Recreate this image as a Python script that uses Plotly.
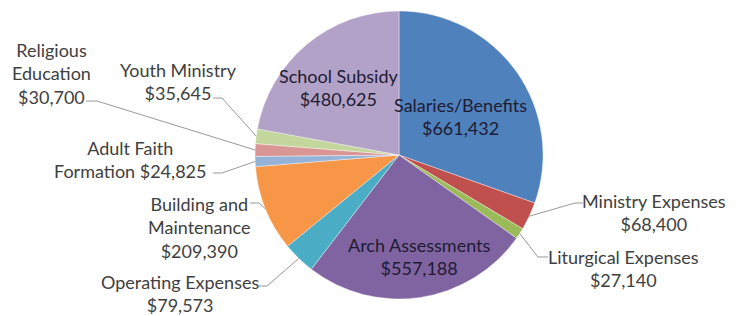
import math
import plotly.graph_objects as go

# ---- data ----
categories = ["Salaries/Benefits", "Ministry Expenses", "Liturgical Expenses", "Arch Assessments",
              "Operating Expenses", "Building and Maintenance", "Adult Faith Formation",
              "Religious Education", "Youth Ministry", "School Subsidy"]
values = [661432, 68400, 27140, 557188, 79573, 209390, 24825, 30700, 35645, 480625]
colors = ["#4F81BD", "#C0504D", "#9BBB59", "#8064A2", "#4BACC6", "#F79646",
          "#95B3D7", "#D99694", "#C3D69B", "#B3A2C7"]

# label text (line breaks as in the reference)
label_text = {
    "Salaries/Benefits": "Salaries/Benefits<br>$661,432",
    "Ministry Expenses": "Ministry Expenses<br>$68,400",
    "Liturgical Expenses": "Liturgical Expenses<br>$27,140",
    "Arch Assessments": "Arch Assessments<br>$557,188",
    "Operating Expenses": "Operating Expenses<br>$79,573",
    "Building and Maintenance": "Building and<br>Maintenance<br>$209,390",
    "Adult Faith Formation": "Adult Faith<br>Formation $24,825",
    "Religious Education": "Religious<br>Education<br>$30,700",
    "Youth Ministry": "Youth Ministry<br>$35,645",
    "School Subsidy": "School Subsidy<br>$480,625",
}

# ---- layout (window pixel geometry; page body has an 8px margin) ----
OFF = 8
WIN_W, WIN_H = 740, 316
W, H = WIN_W - OFF, WIN_H - OFF
CX, CY, R = 399, 155, 144

# label centres (window px) and whether inside
label_pos = {
    "Salaries/Benefits": (460, 116, True),
    "Arch Assessments": (420, 256, True),
    "School Subsidy": (339, 88, True),
    "Ministry Expenses": (654, 212, False),
    "Liturgical Expenses": (623, 268, False),
    "Operating Expenses": (180, 293, False),
    "Building and Maintenance": (199, 227, False),
    "Adult Faith Formation": (130, 160, False),
    "Religious Education": (51, 73, False),
    "Youth Ministry": (178, 81, False),
}
# leader-line elbow and end (near text) points, window px
leader = {
    "Ministry Expenses": [(575, 203), (583, 203)],
    "Liturgical Expenses": [(538, 257), (548, 257)],
    "Operating Expenses": [(267, 286), (259, 286)],
    "Building and Maintenance": [(259, 203), (250, 203)],
    "Adult Faith Formation": [(222, 173), (213, 173)],
    "Religious Education": [(97, 101), (86, 101)],
    "Youth Ministry": [(222, 98), (213, 98)],
}


def px(x):
    return (x - OFF) / W


def py(y):
    return 1 - (y - OFF) / H


fig = go.Figure()
fig.add_trace(go.Pie(
    labels=categories, values=values, sort=False, direction="clockwise", rotation=0,
    marker=dict(colors=colors, line=dict(color="rgba(255,255,255,0.55)", width=0.7)),
    textinfo="none", hoverinfo="label+value", showlegend=False,
    domain=dict(x=[px(CX - R), px(CX + R)], y=[py(CY + R), py(CY - R)]),
))

# mid angles from data
total = sum(values)
cum = 0
shapes = []
annotations = []
for cat, v in zip(categories, values):
    mid = (cum + v / 2) / total * 2 * math.pi
    cum += v
    rx = CX + R * math.sin(mid)
    ry = CY - R * math.cos(mid)
    x, y, inside = label_pos[cat]
    annotations.append(dict(
        x=px(x), y=py(y), xref="paper", yref="paper", text=label_text[cat],
        showarrow=False, xanchor="center", yanchor="middle", align="center",
        font=dict(family="Lato, Open Sans, sans-serif", size=18,
                  color="#1E1B33" if inside else "#404040"),
    ))
    if cat in leader:
        pts = [(rx, ry)] + leader[cat]
        path = "M " + " L ".join(f"{px(a):.5f},{py(b):.5f}" for a, b in pts)
        shapes.append(dict(type="path", path=path, xref="paper", yref="paper",
                           line=dict(color="#999999", width=1)))

fig.update_layout(
    width=W, height=H, margin=dict(l=0, r=0, t=0, b=0),
    paper_bgcolor="white", plot_bgcolor="white",
    shapes=shapes, annotations=annotations,
)
fig.write_html("out.html")
